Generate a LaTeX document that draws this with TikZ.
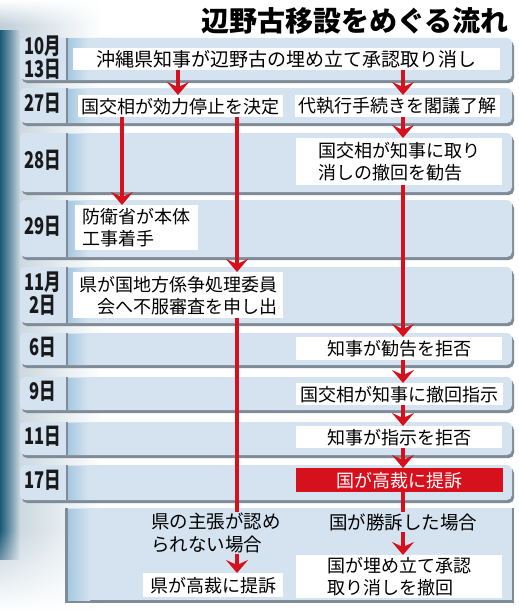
\documentclass[tikz,border=0pt]{standalone}
\usepackage{fontspec}
\usepackage{graphicx}
\newfontfamily\jp{Noto Sans CJK JP}
\usetikzlibrary{arrows.meta,fadings}
\definecolor{rowc}{HTML}{D4E3EF}
\definecolor{shc}{HTML}{7F8B97}
\definecolor{edgec}{HTML}{1B5878}
\definecolor{redc}{HTML}{D6101C}
\definecolor{divc}{HTML}{A7C8E1}
\newcommand\rowbar[2]{%
  \fill[shc, rounded corners=5pt] (22,#1+3) rectangle (514,#2+3);
  \fill[rowc, rounded corners=5pt] (20,#1) rectangle (512,#2);
  \shade[left color=divc, right color=rowc] (68,#1+1) rectangle (88,#2-1);
  \draw[shc, line width=1.5pt] (67,#1) -- (67,#2);
}
\newcommand\dt[1]{\scalebox{0.72}[1]{\begin{tabular}{@{}c@{}}#1\end{tabular}}}
\tikzset{
  wbox/.style={fill=white, inner sep=0pt, anchor=north west, align=left,
    font=\jp\fontsize{18}{22}\selectfont},
  rbox/.style={wbox, fill=redc, text=white},
  datel/.style={inner sep=0pt, font=\jp\bfseries\fontsize{23}{19}\selectfont\renewcommand\arraystretch{0.86}, text=black!90},
  lbl/.style={fill=rowc, inner sep=1pt, align=left, font=\jp\fontsize{18.5}{23}\selectfont},
  arr/.style={draw=redc, line width=4pt, -{Stealth[length=13pt,width=22pt,inset=5pt]}},
}
\begin{document}
\begin{tikzpicture}[x=1pt, y=-1pt]
\useasboundingbox (0,0) rectangle (519,610);
\fill[white] (0,0) rectangle (519,610);
% left glow
\fill[edgec!28, path fading=east] (0,0) rectangle (100,610);
\fill[edgec, path fading=east] (0,30) rectangle (20,560);
\fill[white, path fading=south] (0,0) rectangle (120,25);
\fill[white, path fading=north] (0,530) rectangle (120,610);
% title
\node[anchor=east, inner sep=0pt, font=\jp\bfseries\fontsize{28}{30}\selectfont] (title) at (509,21) {辺野古移設をめぐる流れ};
% rows
\rowbar{38}{80}
\rowbar{88}{123}
\rowbar{133}{192}
\rowbar{200}{257}
\rowbar{267}{323}
\rowbar{333}{365}
\rowbar{377}{410}
\rowbar{422}{455}
\rowbar{465}{500}
% bottom box
\fill[shc] (65,508) rectangle (514,603);
\fill[rowc] (68,508) rectangle (512,600);
\shade[left color=divc, right color=rowc] (68,509) rectangle (90,600);
% dates
\node[datel] (d1) at (43,59) {\dt{10月\\13日}};
\node[datel] (d2) at (43,105) {\dt{27日}};
\node[datel] (d3) at (43,162) {\dt{28日}};
\node[datel] (d4) at (43,228) {\dt{29日}};
\node[datel] (d5) at (43,295) {\dt{11月\\2日}};
\node[datel] (d6) at (43,349) {\dt{6日}};
\node[datel] (d7) at (43,393) {\dt{9日}};
\node[datel] (d8) at (43,438) {\dt{11日}};
\node[datel] (d9) at (43,482) {\dt{17日}};
% boxes
\node[wbox, minimum width=427pt, minimum height=22pt, font=\jp\fontsize{19}{22}\selectfont] (b1) at (73,48) {沖縄県知事が辺野古の埋め立て承認取り消し};
\node[wbox, minimum width=205pt, minimum height=22pt] (b2a) at (78,95) {国交相が効力停止を決定};
\node[wbox, minimum width=205pt, minimum height=22pt] (b2b) at (295,95) {代執行手続きを閣議了解};
\node[wbox, minimum width=206pt, minimum height=47pt] (b3) at (296,138) {国交相が知事に取り\\消しの撤回を勧告};
\node[wbox, minimum width=123pt, minimum height=45pt] (b4) at (75,205) {防衛省が本体\\工事着手};
\node[wbox, minimum width=210pt, minimum height=46pt, align=right] (b5) at (73,272) {県が国地方係争処理委員\\会へ不服審査を申し出};
\node[wbox, minimum width=206pt, minimum height=23pt] (b6) at (296,337) {知事が勧告を拒否};
\node[wbox, minimum width=207pt, minimum height=22pt] (b7) at (296,383) {国交相が知事に撤回指示};
\node[wbox, minimum width=206pt, minimum height=22pt] (b8) at (296,426) {知事が指示を拒否};
\node[rbox, minimum width=207pt, minimum height=24pt] (b9) at (296,468) {国が高裁に提訴};
\node[wbox, minimum width=140pt, minimum height=24pt] (b10) at (143,573) {県が高裁に提訴};
\node[wbox, minimum width=206pt, minimum height=43pt] (b11) at (296,555) {国が埋め立て承認\\取り消しを撤回};
% column positions
\coordinate (xa) at (178,0);
\coordinate (xb) at (403,0);
\coordinate (xc) at (122,0);
\coordinate (xd) at (237,0);
% connectors
\draw[arr] (b1.south -| xa) -- (b2a.north -| xa);
\draw[arr] (b1.south -| xb) -- (b2b.north -| xb);
\draw[arr] (b2a.south -| xc) -- (b4.north -| xc);
\draw[arr] (b2a.south -| xd) -- (b5.north -| xd);
\draw[arr] (b2b.south -| xb) -- (b3.north -| xb);
\draw[arr] (b3.south -| xb) -- (b6.north -| xb);
\draw[arr] (b6.south -| xb) -- (b7.north -| xb);
\draw[arr] (b7.south -| xb) -- (b8.north -| xb);
\draw[arr] (b8.south -| xb) -- (b9.north -| xb);
\draw[arr] (b9.south -| xb) -- (b11.north -| xb);
\draw[arr] (b5.south -| xd) -- (b10.north -| xd);
% condition labels
\node[lbl] (l1) at (216,533) {県の主張が認め\\られない場合};
\node[lbl] (l2) at (403,522) {国が勝訴した場合};
\end{tikzpicture}
\end{document}
